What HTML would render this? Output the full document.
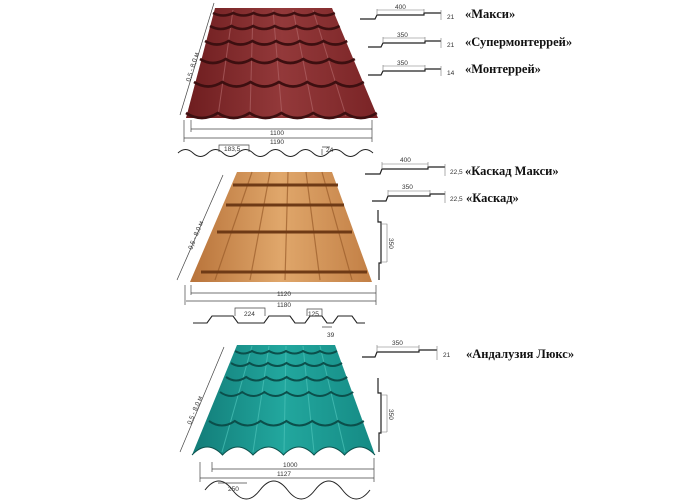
<!DOCTYPE html>
<html><head><meta charset="utf-8"><style>
html,body{margin:0;padding:0;background:#fff;width:700px;height:500px;overflow:hidden}
svg{display:block}
.d{font-family:"Liberation Sans",sans-serif;font-size:6.5px;fill:#333}
.t{font-family:"Liberation Serif","Noto Serif CJK SC",serif;font-size:12.5px;font-weight:bold;fill:#111}
</style></head><body>
<svg width="700" height="500" viewBox="0 0 700 500" xmlns="http://www.w3.org/2000/svg">
<defs>
<linearGradient id="r" x1="0" y1="0" x2="1" y2="0"><stop offset="0" stop-color="#6e1d1f"/><stop offset=".5" stop-color="#93393a"/><stop offset="1" stop-color="#7a2426"/></linearGradient>
<linearGradient id="b" x1="0" y1="0" x2="1" y2="0"><stop offset="0" stop-color="#b8733a"/><stop offset=".5" stop-color="#e0a76b"/><stop offset="1" stop-color="#c27f45"/></linearGradient>
<linearGradient id="g" x1="0" y1="0" x2="1" y2="0"><stop offset="0" stop-color="#127c78"/><stop offset=".5" stop-color="#22a79e"/><stop offset="1" stop-color="#158a84"/></linearGradient>
</defs>

<!-- TOP SHEET -->
<polygon points="215,8 332,8 378,118 186,118" fill="url(#r)"/>
<g stroke="#b06466" stroke-width="1" opacity=".7">
<line x1="233" y1="10" x2="218" y2="116"/><line x1="253" y1="10" x2="250" y2="116"/><line x1="273" y1="10" x2="282" y2="116"/><line x1="293" y1="10" x2="314" y2="116"/><line x1="313" y1="10" x2="346" y2="116"/>
</g>
<g fill="none" stroke="#3d0f10" stroke-width="2.6">
<path d="M213 13 q10.15 5 20.3 0 q10.15 5 20.3 0 q10.15 5 20.3 0 q10.15 5 20.3 0 q10.15 5 20.3 0 q10.15 5 20.3 0"/>
<path d="M210 26 q10.8 6 21.6 0 q10.8 6 21.6 0 q10.8 6 21.6 0 q10.8 6 21.6 0 q10.8 6 21.6 0 q10.8 6 21.6 0"/>
<path d="M205 41 q11.85 7 23.7 0 q11.85 7 23.7 0 q11.85 7 23.7 0 q11.85 7 23.7 0 q11.85 7 23.7 0 q11.85 7 23.7 0"/>
<path d="M200 59 q12.9 8 25.8 0 q12.9 8 25.8 0 q12.9 8 25.8 0 q12.9 8 25.8 0 q12.9 8 25.8 0 q12.9 8 25.8 0"/>
<path d="M194 82 q14.15 9 28.3 0 q14.15 9 28.3 0 q14.15 9 28.3 0 q14.15 9 28.3 0 q14.15 9 28.3 0 q14.15 9 28.3 0"/>
<path d="M186 113 q15.9 10 31.8 0 q15.9 10 31.8 0 q15.9 10 31.8 0 q15.9 10 31.8 0 q15.9 10 31.8 0 q15.9 10 31.8 0"/>
</g>
<!-- top dims -->
<g stroke="#444" stroke-width=".7" fill="none">
<line x1="184" y1="120" x2="184" y2="142"/><line x1="191" y1="120" x2="191" y2="132"/><line x1="372" y1="120" x2="372" y2="142"/>
<line x1="191" y1="129" x2="372" y2="129"/><line x1="184" y1="138" x2="372" y2="138"/>
<line x1="214" y1="3" x2="180" y2="115"/>
<path d="M178 153 q7.5 -7 15 0 t15 0 t15 0 t15 0 t15 0 t15 0 t15 0 t15 0 t15 0 t15 0 t15 0 t15 0 t15 0" stroke="#222" stroke-width="1"/>
<path d="M219 152 V145 H249 V152 M322 149 V155 M322 147 H330"/>
</g>
<text class="d" x="270" y="135">1100</text><text class="d" x="270" y="144">1190</text>
<text class="d" x="224" y="151">183,5</text><text class="d" x="326" y="152">24</text>
<text class="d" transform="translate(190,82) rotate(-73)">0,5 - 8,0 м</text>

<!-- MIDDLE SHEET -->
<polygon points="237,172 332,172 372,282 190,282" fill="url(#b)"/>
<g stroke="#9a5c2a" stroke-width="1.2" opacity=".7">
<line x1="252" y1="172" x2="215" y2="280"/><line x1="270" y1="172" x2="250" y2="280"/><line x1="288" y1="172" x2="285" y2="280"/><line x1="306" y1="172" x2="320" y2="280"/><line x1="322" y1="172" x2="352" y2="280"/>
</g>
<g fill="none" stroke="#6e3a16" stroke-width="3">
<path d="M233 185 H338"/><path d="M226 205 H344"/><path d="M217 232 H352"/><path d="M201 272 H367"/>
</g>
<g stroke="#444" stroke-width=".7" fill="none">
<line x1="185" y1="285" x2="185" y2="305"/><line x1="191" y1="285" x2="191" y2="295"/><line x1="376" y1="285" x2="376" y2="305"/>
<line x1="191" y1="293" x2="376" y2="293"/><line x1="186" y1="301" x2="376" y2="301"/>
<line x1="223" y1="175" x2="177" y2="280"/>
<path d="M193 323 H207 L212 316 H233 L238 323 H264 L269 316 H290 L295 323 H305 L310 316 H322 L327 323 H333 L338 316 H352 L357 323 H365" stroke="#222" stroke-width="1.1"/>
<path d="M235 316 V308 H265 V316 M307 316 V309 H322 V316 M322 327 H332"/>
</g>
<text class="d" x="277" y="296">1120</text><text class="d" x="277" y="307">1180</text>
<text class="d" x="244" y="316">224</text><text class="d" x="308" y="316">125</text><text class="d" x="327" y="337">39</text>
<text class="d" transform="translate(192,250) rotate(-68)">0,5 - 8,0 м</text>

<!-- BOTTOM SHEET -->
<polygon points="237,345 335,345 375,455 192,455" fill="url(#g)"/>
<g stroke="#4cc3b9" stroke-width="1" opacity=".7">
<line x1="252" y1="346" x2="222" y2="452"/><line x1="269" y1="346" x2="253" y2="452"/><line x1="286" y1="346" x2="284" y2="452"/><line x1="303" y1="346" x2="314" y2="452"/><line x1="320" y1="346" x2="345" y2="452"/>
</g>
<g fill="none" stroke="#0b4f4b" stroke-width="2">
<path d="M235 351 q8.5 5 17 0 q8.5 5 17 0 q8.5 5 17 0 q8.5 5 17 0 q8.5 5 17 0 q8.5 5 17 0"/>
<path d="M231 363 q9.25 6 18.5 0 q9.25 6 18.5 0 q9.25 6 18.5 0 q9.25 6 18.5 0 q9.25 6 18.5 0 q9.25 6 18.5 0"/>
<path d="M226 377 q10.1 7 20.2 0 q10.1 7 20.2 0 q10.1 7 20.2 0 q10.1 7 20.2 0 q10.1 7 20.2 0 q10.1 7 20.2 0"/>
<path d="M220 392 q11.1 8 22.2 0 q11.1 8 22.2 0 q11.1 8 22.2 0 q11.1 8 22.2 0 q11.1 8 22.2 0 q11.1 8 22.2 0"/>
<path d="M209 421 q12.9 9 25.8 0 q12.9 9 25.8 0 q12.9 9 25.8 0 q12.9 9 25.8 0 q12.9 9 25.8 0 q12.9 9 25.8 0"/>
</g>
<path d="M192 455 q15.25 -16 30.5 0 q15.25 -16 30.5 0 q15.25 -16 30.5 0 q15.25 -16 30.5 0 q15.25 -16 30.5 0 q15.25 -16 30.5 0 V462 H192Z" fill="#fff"/>
<path d="M192 455 q15.25 -16 30.5 0 q15.25 -16 30.5 0 q15.25 -16 30.5 0 q15.25 -16 30.5 0 q15.25 -16 30.5 0 q15.25 -16 30.5 0" fill="none" stroke="#0b4f4b" stroke-width="1"/>
<g stroke="#444" stroke-width=".7" fill="none">
<line x1="200" y1="462" x2="200" y2="482"/><line x1="212" y1="462" x2="212" y2="472"/><line x1="374" y1="458" x2="374" y2="482"/>
<line x1="212" y1="469" x2="374" y2="469"/><line x1="200" y1="478" x2="374" y2="478"/>
<line x1="224" y1="347" x2="180" y2="452"/>
<path d="M205 493 q13.75 -18 27.5 0 q13.75 18 27.5 0 q13.75 -18 27.5 0 q13.75 18 27.5 0 q13.75 -18 27.5 0 q13.75 18 27.5 0" stroke="#222" stroke-width="1" transform="translate(0,-3)"/>
<line x1="218" y1="483" x2="247" y2="483"/>
</g>
<text class="d" x="283" y="467">1000</text><text class="d" x="277" y="476">1127</text><text class="d" x="228" y="491">250</text>
<text class="d" transform="translate(191,425) rotate(-68)">0,5 - 8,0 м</text>

<!-- RIGHT PROFILES -->
<g fill="none" stroke="#222" stroke-width="1.2">
<path d="M360 19 H375 L377 15 H424 V13 H441"/>
<path d="M368 47 H381 L383 43 H425 V41 H441"/>
<path d="M368 75 H381 L383 71 H425 V69 H441"/>
<path d="M365 174 H380 L382 169 H428 V167 H445"/>
<path d="M372 201 H386 L388 196 H430 V194 H445"/>
<path d="M378 210 V222 H381 V263 H379 V280"/>
<path d="M362 357 H375 L377 352 H419 V350 H437"/>
<path d="M378 378 V393 H381 V433 H379 V452"/>
</g>
<g stroke="#777" stroke-width=".6" fill="none">
<path d="M377 15 V9 M424 13 V9 M377 10 H424 M441 10 V20"/>
<path d="M383 43 V37 M425 41 V37 M383 38 H425 M441 38 V48"/>
<path d="M383 71 V65 M425 69 V65 M383 66 H425 M441 66 V76"/>
<path d="M382 169 V162 M428 167 V162 M382 164 H428 M445 164 V176"/>
<path d="M388 196 V190 M430 194 V190 M388 191 H430 M445 191 V203"/>
<path d="M381 224 H387 V262 M381 262 H387"/>
<path d="M377 352 V345 M419 350 V345 M377 347 H419 M437 346 V360"/>
<path d="M381 395 H387 V432 M381 432 H387"/>
</g>
<text class="d" x="395" y="9">400</text><text class="d" x="447" y="19">21</text>
<text class="d" x="397" y="37">350</text><text class="d" x="447" y="47">21</text>
<text class="d" x="397" y="65">350</text><text class="d" x="447" y="75">14</text>
<text class="d" x="400" y="162">400</text><text class="d" x="450" y="174">22,5</text>
<text class="d" x="402" y="189">350</text><text class="d" x="450" y="201">22,5</text>
<text class="d" x="392" y="345">350</text><text class="d" x="443" y="357">21</text>
<text class="d" transform="translate(389,238) rotate(90)">350</text>
<text class="d" transform="translate(389,409) rotate(90)">350</text>

<text class="t" x="465" y="18">«Макси»</text>
<text class="t" x="465" y="46">«Супермонтеррей»</text>
<text class="t" x="465" y="73">«Монтеррей»</text>
<text class="t" x="465" y="175">«Каскад Макси»</text>
<text class="t" x="466" y="202">«Каскад»</text>
<text class="t" x="466" y="358">«Андалузия Люкс»</text>
</svg>
</body></html>
